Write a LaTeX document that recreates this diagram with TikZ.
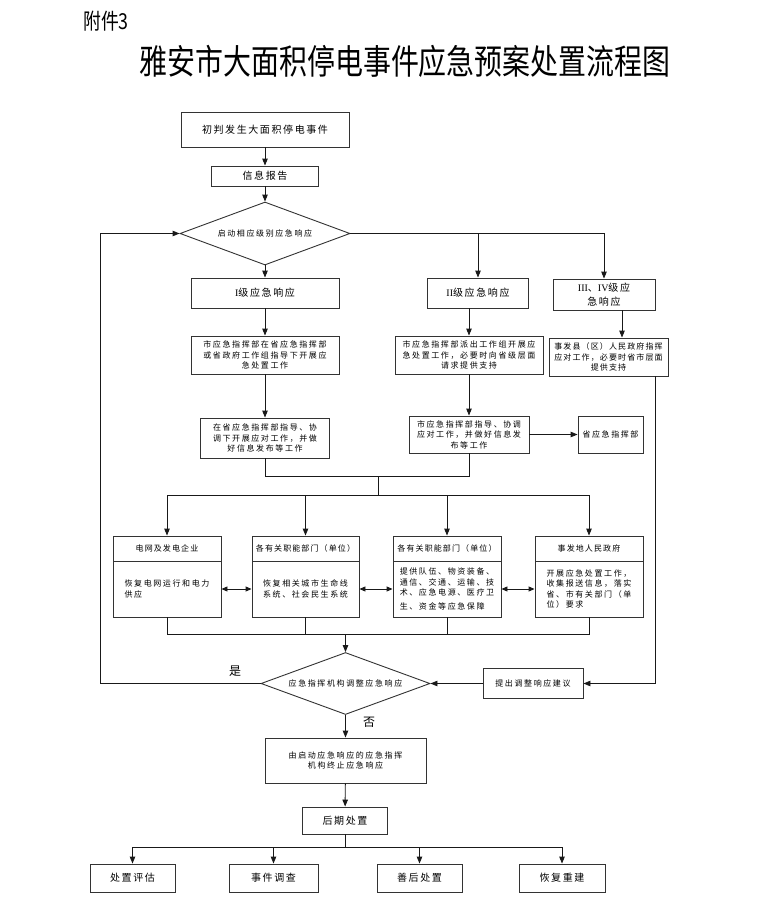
\documentclass[tikz,border=0pt]{standalone}
\usepackage{fontspec}
\usetikzlibrary{arrows.meta,shapes.geometric,calc}
\newfontfamily\cjk[LetterSpace=20]{Noto Sans CJK SC}
\newfontfamily\cjkh[LetterSpace=14]{Noto Sans CJK SC}
\newfontfamily\cjkm[LetterSpace=16]{Noto Sans CJK SC}
\newfontfamily\titlefont[FakeStretch=0.81]{Noto Sans CJK SC}
\newfontfamily\serifrm{Liberation Serif}
\tikzset{
 small/.style={font=\cjk\fontsize{8}{10.5}\selectfont},
 head/.style={font=\cjkh\fontsize{8}{10.5}\selectfont},
 med/.style={font=\cjkm\fontsize{10}{14}\selectfont},
 box/.style={draw=black!80, line width=0.9pt, rectangle, inner sep=0pt, align=center},
 conn/.style={line width=0.9pt, draw=black!90},
 arr/.style={conn, -{Triangle[length=7pt,width=5.5pt]}},
 darr/.style={conn, {Triangle[length=6pt,width=5pt]}-{Triangle[length=6pt,width=5pt]}},
 dia/.style={diamond, aspect=2.7, draw=black!80, line width=0.9pt, inner sep=0pt, align=center},
 lbl/.style={font=\cjk\fontsize{12}{12}\selectfont},
}
\begin{document}
\begin{tikzpicture}[x=1pt,y=-1pt]
\fill[white] (0,0) rectangle (757,918);
\useasboundingbox (0,0) rectangle (757,918);

% titles
\node[font=\titlefont\fontsize{22}{22}\selectfont] (att) at (106,21) {附件3};
\node[font=\titlefont\fontsize{34.5}{34.5}\selectfont] (title) at (405,61) {雅安市大面积停电事件应急预案处置流程图};

% top chain
\node[box,med,minimum width=168,minimum height=35] (start) at (265,129.5) {初判发生大面积停电事件};
\node[box,med,minimum width=107,minimum height=20] (report) at (265,176) {信息报告};
\node[dia,small,minimum width=170,minimum height=63] (d1) at (265,233.5) {启动相应级别应急响应};

\node[box,med,minimum width=148,minimum height=30] (L1) at (265,293) {{\serifrm I}级应急响应};
\node[box,med,minimum width=101,minimum height=30] (L2) at (478,293) {{\serifrm II}级应急响应};
\node[box,med,minimum width=102,minimum height=31] (L3) at (604,294.5) {{\serifrm III}、{\serifrm IV}级应\\急响应};

\node[box,small,minimum width=148,minimum height=38] (L1a) at (265,355) {市应急指挥部在省应急指挥部\\或省政府工作组指导下开展应\\急处置工作};
\node[box,small,minimum width=129,minimum height=40] (L1b) at (265,438) {在省应急指挥部指导、协\\调下开展应对工作，并做\\好信息发布等工作};

\node[box,small,minimum width=148,minimum height=38] (L2a) at (469,355) {市应急指挥部派出工作组开展应\\急处置工作，必要时向省级层面\\请求提供支持};
\node[box,small,minimum width=120,minimum height=37] (L2b) at (469,434.5) {市应急指挥部指导、协调\\应对工作，并做好信息发\\布等工作};
\node[box,small,minimum width=65,minimum height=37] (prov) at (610.5,434.5) {省应急指挥部};

\node[box,head,minimum width=119,minimum height=38] (L3a) at (608.5,357) {事发县（区）人民政府指挥\\应对工作，必要时省市层面\\提供支持};

% four boxes
\node[box,head,minimum width=108,minimum height=25] (A1) at (167,548.5) {电网及发电企业};
\node[box,small,align=left,minimum width=108,minimum height=56] (A2) at (167,589) {恢复电网运行和电力\\供应};
\node[box,head,minimum width=107,minimum height=25] (B1) at (305.5,548.5) {各有关职能部门（单位）};
\node[box,small,align=left,minimum width=107,minimum height=56] (B2) at (305.5,589) {恢复相关城市生命线\\系统、社会民生系统};
\node[box,head,minimum width=108,minimum height=25] (C1) at (447,548.5) {各有关职能部门（单位）};
\node[box,small,align=left,minimum width=108,minimum height=56] (C2) at (447,589) {提供队伍、物资装备、\\通信、交通、运输、技\\术、应急电源、医疗卫\\[3pt]生、资金等应急保障};
\node[box,head,minimum width=108,minimum height=25] (D1) at (589,548.5) {事发地人民政府};
\node[box,small,align=left,minimum width=108,minimum height=56] (D2) at (589,589) {开展应急处置工作，\\收集报送信息，落实\\省、市有关部门（单\\位）要求};

% adjustment
\node[dia,small,minimum width=169,minimum height=62] (d2) at (345.5,683.5) {应急指挥机构调整应急响应};
\node[box,small,minimum width=100,minimum height=30] (adj) at (533,683.5) {提出调整响应建议};
\node[lbl] (yes) at (235,671) {是};
\node[lbl] (no) at (369,722) {否};

\node[box,small,minimum width=161,minimum height=45] (term) at (345.5,760.5) {由启动应急响应的应急指挥\\机构终止应急响应};
\node[box,med,minimum width=85,minimum height=27] (post) at (345,820.5) {后期处置};

\node[box,med,minimum width=85,minimum height=28] (p1) at (132.5,878) {处置评估};
\node[box,med,minimum width=89,minimum height=28] (p2) at (273.5,878) {事件调查};
\node[box,med,minimum width=85,minimum height=28] (p3) at (419.5,878) {善后处置};
\node[box,med,minimum width=86,minimum height=28] (p4) at (562,878) {恢复重建};

% helper coordinates
\coordinate (m1) at (378,476);
\coordinate (m2) at (378,495);
\coordinate (m3) at (346,634);
\coordinate (m4) at (345,847);
\coordinate (lx) at (100,0);
\coordinate (rx) at (655,0);
\coordinate (l3x) at (622,0);

% connectors
\draw[arr] (start) -- (report);
\draw[arr] (report) -- (d1);
\draw[arr] (d1) -- (L1);
\draw[arr] (d1.east) -| (L3.north);
\draw[arr] (d1.east -| L2.north) -- (L2.north);
\draw[arr] (L1) -- (L1a);
\draw[arr] (L1a) -- (L1b);
\draw[arr] (L2.south -| L2a.north) -- (L2a.north);
\draw[arr] (L2a) -- (L2b);
\draw[arr] (L2b) -- (prov);
\draw[arr] (L3.south -| l3x) -- (L3a.north -| l3x);
\draw[arr] (L3a.south -| rx) |- (adj.east);
\draw[arr] (adj) -- (d2);

\draw[conn] (L1b.south) -- (L1b.south |- m1) -- (L2b.south |- m1) -- (L2b.south);
\draw[conn] (m1) -- (m2);
\draw[conn] (A1.north |- m2) -- (D1.north |- m2);
\foreach \n in {A1,B1,C1,D1} \draw[arr] (\n.north |- m2) -- (\n.north);

\draw[darr] (A2) -- (B2);
\draw[darr] (B2) -- (C2);
\draw[darr] (C2) -- (D2);

\draw[conn] (A2.south) -- (A2.south |- m3) -- (D2.south |- m3) -- (D2.south);
\draw[conn] (B2.south) -- (B2.south |- m3);
\draw[conn] (C2.south) -- (C2.south |- m3);
\draw[arr] (d2.north |- m3) -- (d2.north);

\draw[arr] (d2.west) -- (d2.west -| lx) -- (d1.west -| lx) -- (d1.west);
\draw[arr] (d2) -- (term);
\draw[arr] (term) -- (post);

\draw[conn] (post.south) -- (m4);
\draw[conn] (p1.north |- m4) -- (p4.north |- m4);
\foreach \n in {p1,p2,p3,p4} \draw[arr] (\n.north |- m4) -- (\n.north);
\end{tikzpicture}
\end{document}
